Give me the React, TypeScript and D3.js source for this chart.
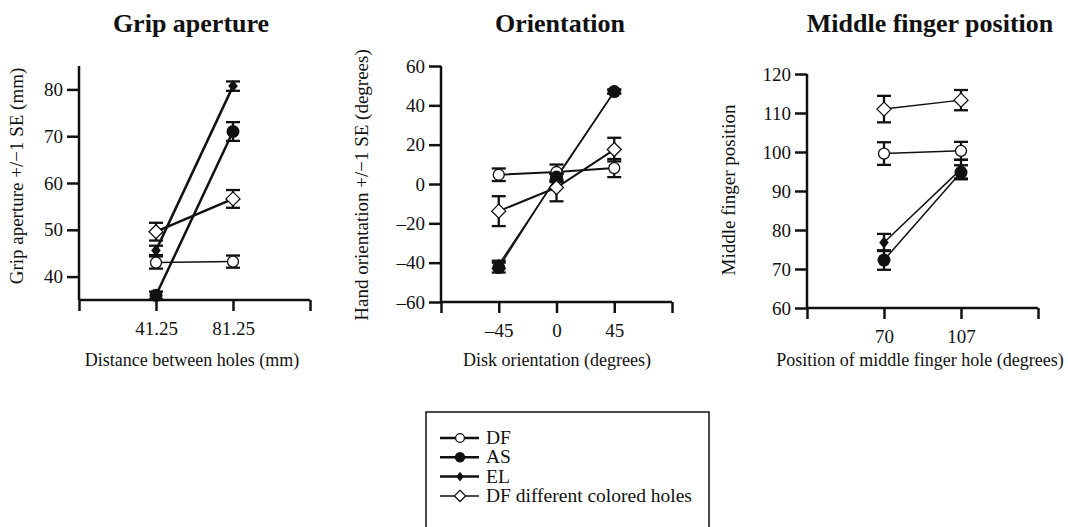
import * as d3 from "d3";
import { useEffect, useRef } from "react";

const series = ["DF", "AS", "EL", "DF different colored holes"];

// grip aperture (mm), x = distance between holes
const gripCats = ["41.25", "81.25"];
const gripDF = [43.0, 43.2];
const gripDFse = [1.3, 1.3];
const gripAS = [36.0, 71.0];
const gripASse = [0.8, 2.0];
const gripEL = [45.6, 80.7];
const gripELse = [1.0, 1.0];
const gripDFC = [49.6, 56.6];
const gripDFCse = [1.9, 1.9];
const gripTicks = [40, 50, 60, 70, 80];

// hand orientation (degrees), x = disk orientation
const orientCats = ["\u201345", "0", "45"];
const orientDF = [4.7, 6.1, 8.1];
const orientDFse = [3.2, 3.8, 4.6];
const orientAS = [-42.5, 3.5, 47.0];
const orientASse = [2.5, 2.0, 1.0];
const orientEL = [-41.0, 3.0, 47.0];
const orientELse = [2.0, 2.0, 1.0];
const orientDFC = [-13.8, -1.8, 17.5];
const orientDFCse = [7.6, 7.0, 6.0];
const orientTicks = [-60, -40, -20, 0, 20, 40, 60];

// middle finger position, x = position of middle finger hole
const fingerCats = ["70", "107"];
const fingerDF = [99.6, 100.3];
const fingerDFse = [2.9, 2.3];
const fingerAS = [72.3, 94.8];
const fingerASse = [2.5, 1.8];
const fingerEL = [76.8, 95.6];
const fingerELse = [2.2, 2.4];
const fingerDFC = [111.0, 113.3];
const fingerDFCse = [3.4, 2.6];
const fingerTicks = [60, 70, 80, 90, 100, 110, 120];

const FONT = "Liberation Serif, Times New Roman, serif";

const panels = [
  {
    title: "Grip aperture",
    yLabel: "Grip aperture +/\u22121 SE (mm)",
    xLabel: "Distance between holes (mm)",
    cats: gripCats,
    yDomain: [35, 85],
    yTicks: gripTicks,
    left: 79, right: 310, top: 66, bottom: 300,
    titleX: 191, yLabelX: 23, yLabelY: 176, xLabelX: 192,
    values: [gripDF, gripAS, gripEL, gripDFC],
    errors: [gripDFse, gripASse, gripELse, gripDFCse],
    widths: [1.5, 2.5, 2.5, 2.5],
  },
  {
    title: "Orientation",
    yLabel: "Hand orientation +/\u22121 SE (degrees)",
    xLabel: "Disk orientation (degrees)",
    cats: orientCats,
    yDomain: [-60, 60],
    yTicks: orientTicks,
    left: 441, right: 672, top: 66, bottom: 302,
    titleX: 560, yLabelX: 368, yLabelY: 185, xLabelX: 557,
    values: [orientDF, orientAS, orientEL, orientDFC],
    errors: [orientDFse, orientASse, orientELse, orientDFCse],
    widths: [2, 1.5, 1.5, 2],
  },
  {
    title: "Middle finger position",
    yLabel: "Middle finger position",
    xLabel: "Position of middle finger hole (degrees)",
    cats: fingerCats,
    yDomain: [60, 120],
    yTicks: fingerTicks,
    left: 807, right: 1038, top: 74, bottom: 308,
    titleX: 930, yLabelX: 735, yLabelY: 190, xLabelX: 920,
    values: [fingerDF, fingerAS, fingerEL, fingerDFC],
    errors: [fingerDFse, fingerASse, fingerELse, fingerDFCse],
    widths: [1.5, 1.5, 1.5, 1.5],
  },
];

// marker drawing for each series
const drawMarker = (g, i, x, y, k = 1) => {
  if (i === 0) {
    g.append("circle").attr("cx", x).attr("cy", y).attr("r", 5.5 * k)
      .attr("fill", "#fff").attr("stroke", "#111").attr("stroke-width", 1.3);
  } else if (i === 1) {
    g.append("circle").attr("cx", x).attr("cy", y).attr("r", 6.5 * k).attr("fill", "#111");
  } else if (i === 2) {
    const s = 6 * k;
    g.append("path").attr("d", `M${x},${y - s}L${x + s * 0.8},${y}L${x},${y + s}L${x - s * 0.8},${y}Z`)
      .attr("fill", "#111");
  } else {
    const s = 7 * k;
    g.append("path").attr("d", `M${x},${y - s}L${x + s},${y}L${x},${y + s}L${x - s},${y}Z`)
      .attr("fill", "#fff").attr("stroke", "#111").attr("stroke-width", 1.3);
  }
};

const drawChart = (svgEl) => {
  const svg = d3.select(svgEl);
  svg.selectAll("*").remove();
  svg.attr("font-family", FONT).attr("fill", "#111");

  panels.forEach((p) => {
    const n = p.cats.length;
    const x = d3.scaleLinear().domain([0, n + 1]).range([p.left, p.right]);
    const y = d3.scaleLinear().domain(p.yDomain).range([p.bottom, p.top]);
    const g = svg.append("g");

    g.append("text")
      .attr("x", p.titleX).attr("y", 32)
      .attr("text-anchor", "middle")
      .attr("font-size", 26).attr("font-weight", "bold")
      .text(p.title);

    // axes
    const xAxis = d3.axisBottom(x)
      .tickValues(d3.range(0, n + 2))
      .tickSize(11).tickPadding(11)
      .tickFormat((d) => (d >= 1 && d <= n ? p.cats[d - 1] : ""));
    const xg = g.append("g").attr("transform", `translate(0,${p.bottom})`).call(xAxis);

    const yAxis = d3.axisLeft(y).tickValues(p.yTicks).tickSize(12).tickPadding(4)
      .tickFormat((d) => (d < 0 ? "\u2013" + Math.abs(d) : String(d)));
    const yg = g.append("g").attr("transform", `translate(${p.left},0)`).call(yAxis);

    [xg, yg].forEach((ax) => {
      ax.attr("font-family", FONT).attr("font-size", 19);
      ax.select(".domain").attr("stroke", "#111").attr("stroke-width", 2.5);
      ax.selectAll(".tick line").attr("stroke", "#111").attr("stroke-width", 2.5);
      ax.selectAll(".tick text").attr("fill", "#111");
    });
    yg.select(".domain").attr("d", `M0,${p.bottom}V${p.top}`);
    xg.select(".domain").attr("d", `M${p.left},0H${p.right}`);

    g.append("text")
      .attr("transform", `translate(${p.yLabelX},${p.yLabelY}) rotate(-90)`)
      .attr("text-anchor", "middle").attr("font-size", 19)
      .text(p.yLabel);

    g.append("text")
      .attr("x", p.xLabelX).attr("y", 366)
      .attr("text-anchor", "middle").attr("font-size", 18)
      .text(p.xLabel);

    const line = d3.line().x((d, i) => x(i + 1)).y((d) => y(d));

    p.values.forEach((vals, si) => {
      g.append("path").attr("d", line(vals)).attr("fill", "none")
        .attr("stroke", "#111").attr("stroke-width", p.widths[si]);
    });

    p.values.forEach((vals, si) => {
      vals.forEach((v, i) => {
        const se = p.errors[si][i];
        const cx = x(i + 1);
        const eb = g.append("g").attr("stroke", "#111").attr("stroke-width", 2.3);
        eb.append("line").attr("x1", cx).attr("x2", cx).attr("y1", y(v - se)).attr("y2", y(v + se));
        eb.append("line").attr("x1", cx - 7).attr("x2", cx + 7).attr("y1", y(v - se)).attr("y2", y(v - se));
        eb.append("line").attr("x1", cx - 7).attr("x2", cx + 7).attr("y1", y(v + se)).attr("y2", y(v + se));
      });
    });

    p.values.forEach((vals, si) => {
      vals.forEach((v, i) => drawMarker(g, si, x(i + 1), y(v)));
    });
  });

  // legend
  const lg = svg.append("g");
  lg.append("rect").attr("x", 426).attr("y", 412).attr("width", 283).attr("height", 200)
    .attr("fill", "#fff").attr("stroke", "#111").attr("stroke-width", 1.5);
  const legendWidths = [2.5, 2.5, 2.5, 1.5];
  series.forEach((name, i) => {
    const yy = 438 + i * 19.3;
    lg.append("line").attr("x1", 440).attr("x2", 479).attr("y1", yy).attr("y2", yy)
      .attr("stroke", "#111").attr("stroke-width", legendWidths[i]);
    drawMarker(lg, i, 460, yy, 0.8);
    lg.append("text").attr("x", 486).attr("y", yy + 6).attr("font-size", 19.5).text(name);
  });
};

export default function App() {
  const ref = useRef(null);
  useEffect(() => {
    drawChart(ref.current);
  }, []);
  return (
    <svg ref={ref} width={1068} height={527}
      style={{ position: "absolute", left: 0, top: 0, background: "#fff" }} />
  );
}
